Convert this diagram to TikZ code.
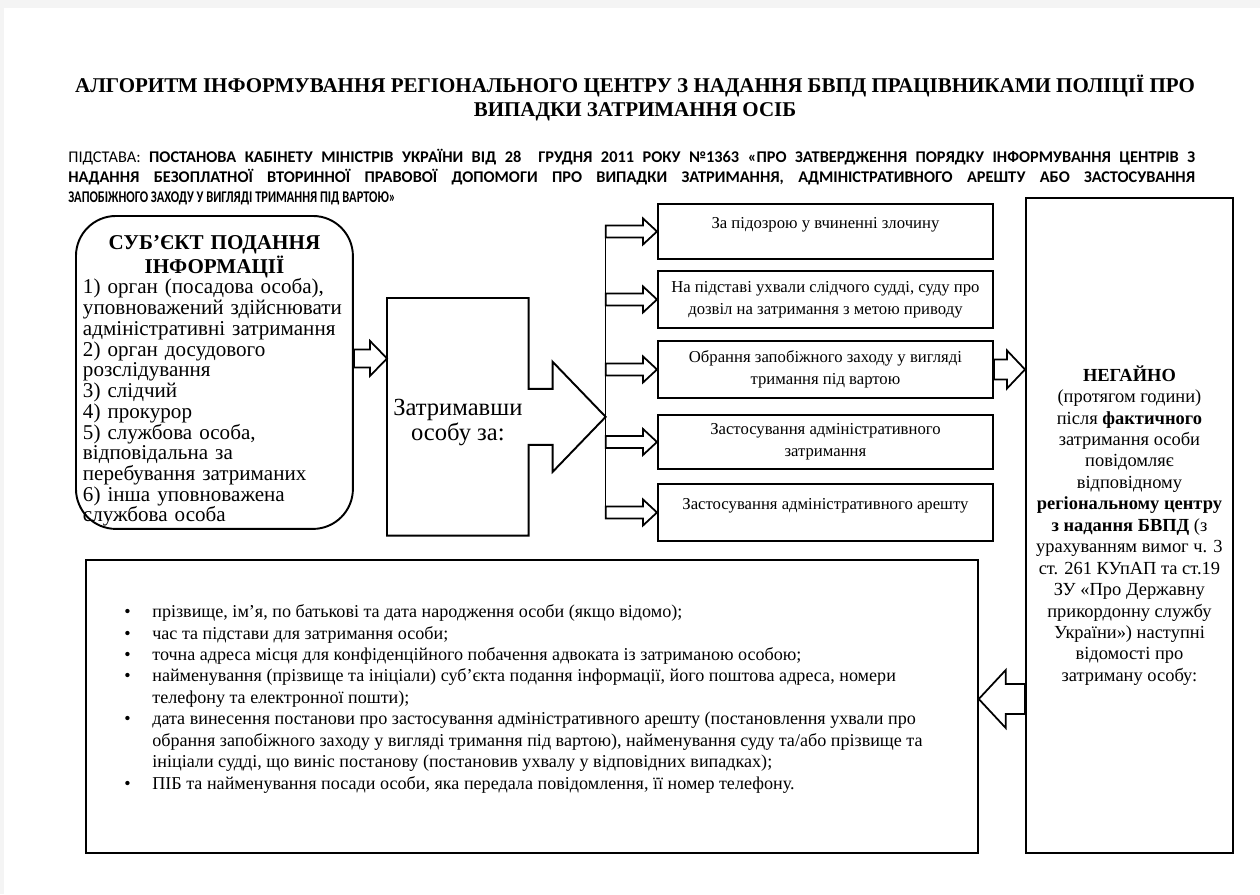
\documentclass[tikz,border=0pt]{standalone}
\usepackage{fontspec}
\setmainfont{Liberation Serif}
\newfontfamily\basisfont{Carlito}
\newfontfamily\narrowfont[FakeStretch=0.76]{Carlito}
\usetikzlibrary{calc,positioning}

\tikzset{
  frame/.style={draw, line width=1.1pt},
  reasonbox/.style={frame, anchor=north west, minimum width=6.7cm, align=center,
    font=\fontsize{9.5}{12.5}\selectfont},
  blockline/.style={draw, line width=1pt, fill=white, line join=miter},
}

% hollow block arrow: start, end, shaft half width, head half width, head length
\newcommand{\blockarrow}[5]{%
  \draw[blockline] let \p1=#1, \p2=#2 in
    (\x1,{\y1+#3}) -- ({\x2-(#5)},{\y1+#3}) -- ({\x2-(#5)},{\y1+#4})
    -- (\x2,\y1) -- ({\x2-(#5)},{\y1-#4}) -- ({\x2-(#5)},{\y1-#3})
    -- (\x1,{\y1-#3}) -- cycle;}

\begin{document}
\begin{tikzpicture}[x=0.02cm, y=-0.02cm]
  \useasboundingbox (0,0) rectangle (1260,894);
  \fill[gray!9] (0,0) rectangle (1260,894);
  \fill[white] (4,8) rectangle (1260,894);

  \node[font=\fontsize{11.95}{13.8}\selectfont\bfseries, align=center] (title) at (635,98)
    {АЛГОРИТМ ІНФОРМУВАННЯ РЕГІОНАЛЬНОГО ЦЕНТРУ З НАДАННЯ БВПД ПРАЦІВНИКАМИ ПОЛІЦІЇ ПРО\\
     ВИПАДКИ ЗАТРИМАННЯ ОСІБ};

  \node[anchor=north west, inner sep=0pt, text width=22.54cm, align=justify,
    font=\basisfont\fontsize{9.3}{11.4}\selectfont] (basis) at (68,149)
    {ПІДСТАВА: \textbf{ПОСТАНОВА КАБІНЕТУ МІНІСТРІВ УКРАЇНИ ВІД 28\ \ ГРУДНЯ 2011 РОКУ №1363
     «ПРО ЗАТВЕРДЖЕННЯ ПОРЯДКУ ІНФОРМУВАННЯ ЦЕНТРІВ З\linebreak НАДАННЯ БЕЗОПЛАТНОЇ ВТОРИННОЇ
     ПРАВОВОЇ ДОПОМОГИ ПРО ВИПАДКИ ЗАТРИМАННЯ, АДМІНІСТРАТИВНОГО АРЕШТУ АБО
     ЗАСТОСУВАННЯ}{\parfillskip=0pt\par}
     {\narrowfont\bfseries ЗАПОБІЖНОГО ЗАХОДУ У ВИГЛЯДІ ТРИМАННЯ ПІД ВАРТОЮ»}};

  \node[frame, rounded corners=0.8cm, anchor=north west, minimum width=5.54cm,
    minimum height=6.26cm] (subj) at (75,215) {};
  \node[text width=5.26cm, align=left, yshift=-0.17cm, font=\fontsize{12}{11.8}\selectfont]
    (subjtext) at (subj.center)
    {{\centering\bfseries СУБ’ЄКТ ПОДАННЯ\\ ІНФОРМАЦІЇ\par}
     1) орган (посадова особа),\\ уповноважений здійснювати\\ адміністративні затримання\\
     2) орган досудового\\ розслідування\\ 3) слідчий\\ 4) прокурор\\ 5) службова особа,\\
     відповідальна за\\ перебування затриманих\\ 6) інша уповноважена\\ службова особа};

  \node[minimum width=2.82cm, minimum height=4.74cm, anchor=north west,
    label={[yshift=-0.12cm, align=center, font=\fontsize{14}{14.2}\selectfont]center:Затримавши\\ особу за:}]
    (hold) at (387,298) {};
  \draw[frame, line join=miter] (hold.north west) -- (hold.north east)
    -- ($(hold.east)+(0,-28)$) -- ++(24,0) -- ++(0,-27) -- ($(hold.east)+(77,0)$) coordinate (tip)
    -- ($(hold.east)+(24,55)$) -- ++(0,-27) -- ($(hold.east)+(0,28)$)
    -- (hold.south east) -- (hold.south west) -- cycle;

  \coordinate (sa) at ($(subj.east)+(0,-14)$);
  \blockarrow{(sa)}{(sa -| hold.west)}{0.18cm}{0.35cm}{0.34cm}

  \node[reasonbox, minimum height=1.1cm, text depth=0.33cm] (r1) at (657,203) {За підозрою у вчиненні злочину};
  \node[reasonbox, minimum height=1.14cm] (r2) at (657,270)
    {На підставі ухвали слідчого судді, суду про\\ дозвіл на затримання з метою приводу};
  \node[reasonbox, minimum height=1.14cm] (r3) at (657,340)
    {Обрання запобіжного заходу у вигляді\\ тримання під вартою};
  \node[reasonbox, minimum height=1.08cm] (r4) at (657,414)
    {Застосування адміністративного\\ затримання};
  \node[reasonbox, minimum height=1.14cm, text depth=0.35cm] (r5) at (657,483) {Застосування адміністративного арешту};

  \draw[line width=0.6pt] (tip |- r1.west) -- (tip |- r5.west);
  \foreach \r in {r1,r2,r3,r4,r5}
    \blockarrow{(tip |- \r.west)}{(\r.west)}{0.12cm}{0.26cm}{0.28cm};

  \node[frame, anchor=north west, minimum width=4.14cm, minimum height=13.1cm, align=center,
    font=\fontsize{10.5}{12.2}\selectfont] (tall) at (1025,197)
    {\textbf{НЕГАЙНО}\\ (протягом години)\\ після \textbf{фактичного}\\ затримання особи\\
     повідомляє\\ відповідному\\ \textbf{регіональному центру}\\ \textbf{з надання БВПД} (з\\
     урахуванням вимог ч. 3\\ ст. 261 КУпАП та ст.19\\ ЗУ «Про Державну\\ прикордонну службу\\
     України») наступні\\ відомості про\\ затриману особу:};
  \blockarrow{(r3.east)}{(r3.east -| tall.west)}{0.2cm}{0.38cm}{0.36cm}

  \node[frame, anchor=north west, minimum width=17.84cm, minimum height=5.86cm] (bottom) at (85,559) {};
  \node[anchor=west, inner sep=0pt, font=\fontsize{10.3}{12.2}\selectfont] (info) at (124,699)
    {\begin{tabular}{@{}p{0.56cm}@{}l@{}}
     \textbullet & прізвище, ім’я, по батькові та дата народження особи (якщо відомо);\\
     \textbullet & час та підстави для затримання особи;\\
     \textbullet & точна адреса місця для конфіденційного побачення адвоката із затриманою особою;\\
     \textbullet & найменування (прізвище та ініціали) суб’єкта подання інформації, його поштова адреса, номери\\
                 & телефону та електронної пошти);\\
     \textbullet & дата винесення постанови про застосування адміністративного арешту (постановлення ухвали про\\
                 & обрання запобіжного заходу у вигляді тримання під вартою), найменування суду та/або прізвище та\\
                 & ініціали судді, що виніс постанову (постановив ухвалу у відповідних випадках);\\
     \textbullet & ПІБ та найменування посади особи, яка передала повідомлення, її номер телефону.
     \end{tabular}};
  \blockarrow{(tall.west |- info.west)}{(bottom.east |- info.west)}{0.3cm}{0.58cm}{-0.54cm}
\end{tikzpicture}
\end{document}
